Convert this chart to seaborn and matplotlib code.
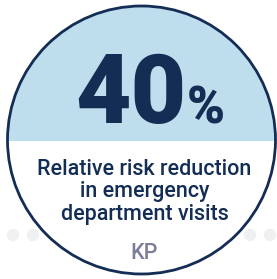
import matplotlib
matplotlib.use("Agg")
import matplotlib.pyplot as plt
from matplotlib.patches import Circle, Wedge
import seaborn as sns
import pandas as pd

# data
stat_value = [40]
stat_unit = ["%"]
stat_label = ["Relative risk reduction", "in emergency", "department visits"]
source_label = ["KP"]
dot_x = [13, 33, 250, 270]
dot_y = [235, 235, 235, 235]

NAVY = "#142d55"
LIGHT = "#bedded"
GREY = "#7b7d9a"

sns.set_theme(style="white")
plt.rcParams["font.family"] = ["Roboto", "DejaVu Sans"]

fig = plt.figure(figsize=(2.77, 2.79), dpi=100)
ax = fig.add_axes([0, 0, 1, 1])
ax.set_xlim(0, 277)
ax.set_ylim(279, 0)
ax.set_aspect("equal")
ax.axis("off")

# faint dots behind the badge
dots = pd.DataFrame({"x": dot_x, "y": dot_y})
sns.scatterplot(data=dots, x="x", y="y", ax=ax, s=80, color="#eef0f2",
                edgecolor="none", legend=False, zorder=1)

cx, cy, r = 141.5, 140, 134
ax.add_patch(Circle((cx, cy), r, facecolor="white", edgecolor="none", zorder=2))
ax.add_patch(Wedge((cx, cy + 1), r, 180, 360, facecolor=LIGHT, edgecolor="none", zorder=3))
ax.add_patch(Circle((cx, cy), r, facecolor="none", edgecolor=NAVY, lw=2.0, zorder=5))

ax.text(186, 123, str(stat_value[0]), ha="right", va="baseline", fontsize=69,
        fontweight="black", color=NAVY, zorder=6)
ax.text(187, 123, stat_unit[0], ha="left", va="baseline", fontsize=37,
        fontweight="black", color=NAVY, zorder=6)

for i, line in enumerate(stat_label):
    ax.text(cx + 3, 175 + i * 22.5, line, ha="center", va="baseline", fontsize=15.5,
            fontweight="medium", color=NAVY, zorder=6)

ax.text(cx + 3, 259, source_label[0], ha="center", va="baseline", fontsize=15.5,
        fontweight="medium", color=GREY, zorder=6)

fig.savefig("out.png", dpi=100)
